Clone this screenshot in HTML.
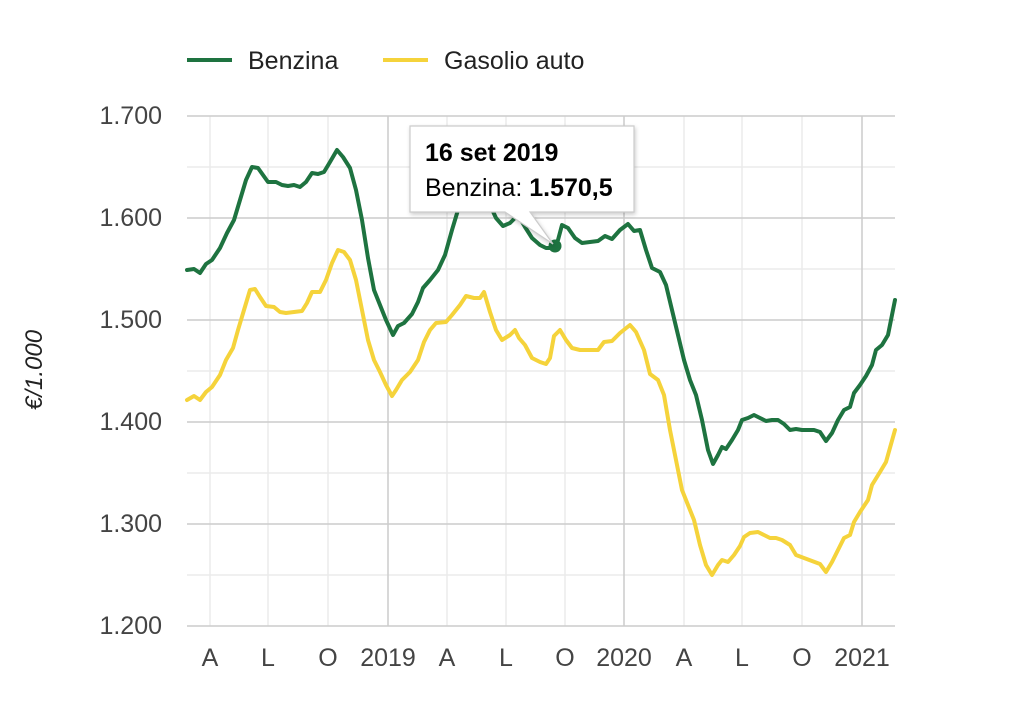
<!DOCTYPE html>
<html><head><meta charset="utf-8"><style>
body{margin:0;background:#fff;}
svg{display:block;font-family:"Liberation Sans",Arial,sans-serif;}
</style></head><body>
<svg width="1024" height="725" viewBox="0 0 1024 725">
<g stroke="#ebebeb" stroke-width="1.5">
<line x1="187" x2="895" y1="167" y2="167"/><line x1="187" x2="895" y1="269" y2="269"/><line x1="187" x2="895" y1="371" y2="371"/><line x1="187" x2="895" y1="473" y2="473"/><line x1="187" x2="895" y1="575" y2="575"/>
<line x1="210" x2="210" y1="116" y2="626"/><line x1="268" x2="268" y1="116" y2="626"/><line x1="328" x2="328" y1="116" y2="626"/><line x1="447" x2="447" y1="116" y2="626"/><line x1="506" x2="506" y1="116" y2="626"/><line x1="565" x2="565" y1="116" y2="626"/><line x1="684" x2="684" y1="116" y2="626"/><line x1="742" x2="742" y1="116" y2="626"/><line x1="802" x2="802" y1="116" y2="626"/>
</g>
<g stroke="#cccccc" stroke-width="1.5">
<line x1="187" x2="895" y1="116" y2="116"/><line x1="187" x2="895" y1="218" y2="218"/><line x1="187" x2="895" y1="320" y2="320"/><line x1="187" x2="895" y1="422" y2="422"/><line x1="187" x2="895" y1="524" y2="524"/>
<line x1="388" x2="388" y1="116" y2="626"/><line x1="624" x2="624" y1="116" y2="626"/><line x1="862" x2="862" y1="116" y2="626"/>
<line x1="187" x2="895" y1="626" y2="626"/>
</g>
<g font-size="25" fill="#444" text-anchor="end">
<text x="162" y="124">1.700</text><text x="162" y="226">1.600</text><text x="162" y="328">1.500</text><text x="162" y="430">1.400</text><text x="162" y="532">1.300</text><text x="162" y="634">1.200</text>
</g>
<g font-size="25" fill="#444" text-anchor="middle">
<text x="210" y="666">A</text><text x="268" y="666">L</text><text x="328" y="666">O</text><text x="388" y="666">2019</text><text x="447" y="666">A</text><text x="506" y="666">L</text><text x="565" y="666">O</text><text x="624" y="666">2020</text><text x="684" y="666">A</text><text x="742" y="666">L</text><text x="802" y="666">O</text><text x="862" y="666">2021</text>
</g>
<text transform="translate(42,370) rotate(-90)" font-size="24" font-style="italic" fill="#222" text-anchor="middle">€/1.000</text>
<line x1="187" x2="232" y1="60" y2="60" stroke="#1e7340" stroke-width="4"/>
<text x="248" y="69" font-size="25" fill="#222">Benzina</text>
<line x1="383" x2="428" y1="60" y2="60" stroke="#f5d33b" stroke-width="4"/>
<text x="444" y="69" font-size="25" fill="#222">Gasolio auto</text>
<polyline fill="none" stroke="#f5d33b" stroke-width="4" stroke-linejoin="round" stroke-linecap="round" points="187,400 194,396 200,400 206,392 212,387 220,375 226,360 233,348 238,330 244,310 250,290 255,289 260,297 266,306 274,307 280,312 286,313 294,312 302,311 307,303 312,292 320,292 326,280 332,263 338,250 344,252 350,260 356,280 362,310 368,340 374,360 380,372 386,385 392,396 396,390 402,380 410,372 418,360 424,342 430,330 436,323 446,322 452,315 460,305 466,296 474,298 480,298 484,292 490,312 496,330 502,340 510,335 515,330 519,338 525,345 532,358 540,362 546,364 550,358 554,336 560,330 566,340 572,348 580,350 590,350 598,350 604,342 612,341 620,333 630,325 636,332 644,350 650,374 658,380 664,395 670,430 676,460 682,490 688,505 694,520 700,545 706,565 712,575 718,565 722,560 728,562 734,555 740,546 744,537 750,533 758,532 764,535 770,538 776,538 782,540 790,545 796,555 804,558 812,561 820,564 826,572 832,562 838,550 844,538 850,535 854,522 860,512 868,500 872,485 880,472 886,462 895,430"/>
<polyline fill="none" stroke="#1e7340" stroke-width="4" stroke-linejoin="round" stroke-linecap="round" points="187,270 194,269 200,273 206,264 212,260 220,248 227,233 234,220 240,200 246,180 252,167 258,168 263,175 268,182 276,182 282,185 288,186 294,185 300,187 306,182 312,173 318,174 324,172 330,162 337,150 343,157 350,168 356,190 362,220 368,258 374,290 380,305 386,320 393,335 398,326 404,323 412,314 418,302 423,288 430,280 438,270 445,255 452,230 458,210 470,180 480,190 490,205 496,218 503,226 510,223 518,215 525,227 532,238 540,245 546,248 553,248 558,240 562,225 568,228 575,238 582,243 590,242 598,241 605,236 612,239 620,230 628,224 634,231 640,230 646,250 652,268 660,272 666,285 672,310 678,335 684,360 690,380 696,395 702,420 708,450 713,464 718,455 722,447 726,449 732,440 738,430 742,420 748,418 754,415 760,418 766,421 772,420 778,420 784,424 790,430 796,429 802,430 808,430 814,430 820,432 826,441 832,433 838,420 844,410 850,407 854,393 860,385 866,376 872,365 876,350 882,345 888,335 895,300"/>
<circle cx="555" cy="246" r="6.5" fill="#1e7340"/>
<path d="M410,126 H634 V212 H530 L553,244 L505,212 H410 Z" fill="#fff" stroke="#ccc" stroke-width="1.2" style="filter:drop-shadow(1px 2px 2px rgba(0,0,0,0.2))"/>
<text x="425" y="161" font-size="25" font-weight="bold" fill="#000">16 set 2019</text>
<text x="425" y="196" font-size="25" fill="#000">Benzina: <tspan font-weight="bold">1.570,5</tspan></text>
</svg>
</body></html>
